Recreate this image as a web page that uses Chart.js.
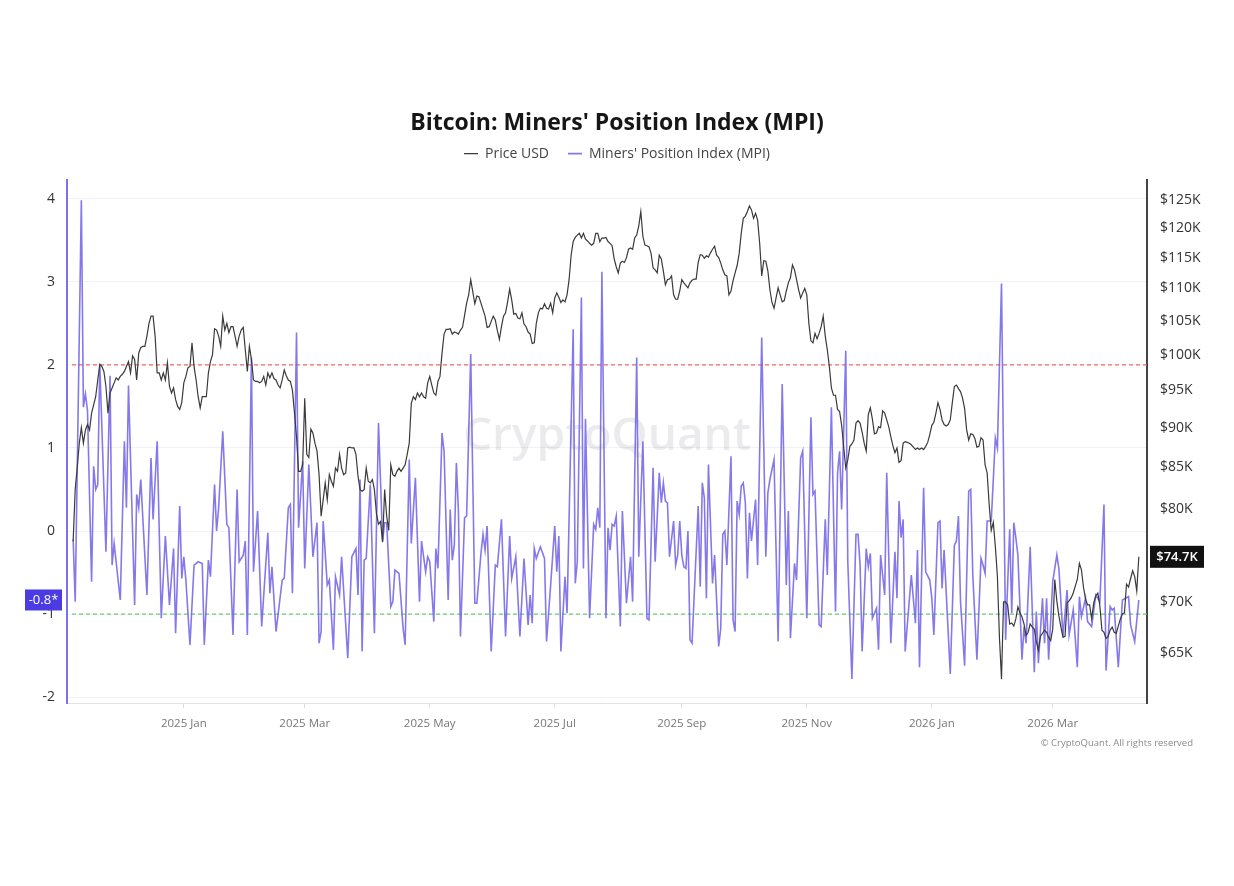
<!DOCTYPE HTML>
<html>
<head>
  <meta charset="utf-8">
  <script src="https://cdn.jsdelivr.net/npm/chart.js"></script>
  <style>
    body { margin: 0; background: #fff; }
  </style>
</head>
<body>
  <canvas id="mpiChart" width="1234" height="886"></canvas>

  <script>
    // First day of both series; x positions are day offsets from here
    var startDate = '2024-11-08';

    // Bitcoin price, USD thousands, one value per day from startDate
    var priceK = [
      76.4, 82.3, 85.0, 88.0, 90.0, 88.0, 89.7, 90.4, 89.7, 91.9,
      93.0, 94.1, 96.4, 98.6, 98.3, 97.6, 95.5, 91.9, 94.6, 95.3,
      96.0, 96.7, 96.4, 96.9, 97.2, 97.6, 98.3, 99.0, 97.4, 99.8,
      99.3, 96.4, 100.2, 101.0, 101.2, 101.2, 102.7, 104.6, 105.7, 105.7,
      102.7, 97.4, 97.4, 96.4, 97.4, 96.4, 98.8, 95.5, 94.6, 95.3,
      93.7, 92.8, 92.4, 93.3, 96.0, 96.9, 98.1, 98.3, 101.7, 98.3,
      96.4, 94.1, 92.6, 94.1, 94.1, 94.1, 97.4, 99.0, 100.0, 103.8,
      103.6, 102.7, 101.2, 105.7, 103.6, 104.6, 103.2, 104.1, 104.1, 102.7,
      101.2, 102.7, 103.6, 104.0, 100.7, 97.6, 101.2, 99.3, 96.4, 96.2,
      96.2, 96.0, 96.2, 96.9, 95.7, 97.4, 96.7, 97.4, 96.6, 96.4,
      95.7, 95.3, 96.4, 97.8, 97.0, 96.4, 96.2, 95.0, 91.9, 88.8,
      84.5, 84.5, 85.3, 93.9, 86.6, 86.2, 89.8, 89.3, 88.0, 87.0,
      84.1, 79.2, 81.1, 83.1, 81.1, 84.1, 83.3, 82.7, 84.9, 84.5,
      86.6, 84.9, 84.1, 84.3, 87.4, 87.5, 87.4, 87.4, 86.6, 83.9,
      82.3, 82.1, 82.3, 84.9, 83.3, 83.1, 83.5, 82.3, 79.5, 78.3,
      78.6, 76.3, 82.3, 79.2, 77.6, 85.3, 84.1, 83.9, 84.5, 84.9,
      84.5, 84.9, 85.3, 86.6, 88.0, 93.2, 94.1, 93.7, 94.6, 94.1,
      94.6, 94.1, 93.9, 96.0, 96.9, 95.7, 94.6, 94.3, 96.2, 96.9,
      100.2, 103.0, 103.7, 103.7, 103.8, 103.0, 103.3, 103.2, 103.0, 103.6,
      104.0, 105.8, 107.7, 109.0, 111.4, 109.5, 107.6, 108.8, 108.7, 107.7,
      106.7, 105.7, 104.0, 104.1, 104.9, 105.7, 105.1, 103.5, 102.2, 104.1,
      105.7, 106.2, 107.9, 109.9, 108.2, 106.0, 106.1, 105.4, 105.3, 106.2,
      104.5, 104.1, 103.3, 103.0, 101.6, 101.7, 104.6, 106.2, 106.9, 106.8,
      107.6, 106.9, 106.8, 107.7, 106.2, 108.5, 109.3, 108.6, 107.8, 108.2,
      107.9, 109.0, 111.4, 115.4, 117.7, 118.4, 118.8, 119.1, 118.3, 119.1,
      118.1, 117.8, 117.4, 117.1, 117.4, 119.1, 119.1, 117.7, 118.3, 118.3,
      118.4, 117.7, 117.4, 117.0, 114.8, 113.5, 112.5, 114.1, 114.4, 114.2,
      115.0, 116.4, 116.6, 116.4, 118.3, 118.8, 120.4, 122.9, 118.6, 117.1,
      117.0, 116.8, 115.7, 113.3, 113.0, 112.5, 115.4, 114.8, 112.8, 110.6,
      111.4, 111.5, 112.0, 109.0, 108.3, 108.3, 109.6, 111.4, 110.9, 110.5,
      110.1, 110.9, 111.3, 111.5, 111.5, 114.2, 115.5, 115.4, 114.9, 115.3,
      115.1, 115.8, 116.4, 116.9, 115.4, 115.0, 114.1, 113.0, 112.2, 112.0,
      109.0, 109.6, 111.2, 112.5, 113.7, 115.7, 119.1, 121.7, 122.1, 122.9,
      123.9, 123.2, 121.7, 122.6, 121.4, 117.4, 112.0, 114.5, 114.4, 112.8,
      109.8, 107.8, 106.9, 108.5, 110.1, 109.0, 107.9, 108.1, 109.6, 110.9,
      111.7, 113.8, 113.0, 111.4, 109.8, 108.5, 109.3, 110.0, 109.0, 104.6,
      102.0, 101.7, 103.1, 102.3, 103.1, 104.1, 105.7, 102.7, 100.7, 98.3,
      95.3, 94.3, 94.3, 92.4, 92.1, 90.3, 87.5, 84.9, 85.9, 87.6,
      87.9, 88.4, 90.6, 90.9, 90.6, 89.4, 88.0, 87.0, 91.7, 92.6,
      91.1, 89.2, 89.3, 90.1, 90.0, 92.2, 91.9, 91.0, 90.1, 88.8,
      87.7, 86.8, 87.4, 85.6, 85.8, 88.0, 88.2, 88.1, 88.0, 87.8,
      87.5, 87.2, 87.4, 87.2, 87.4, 87.2, 87.6, 88.1, 89.1, 90.3,
      90.7, 91.9, 93.3, 92.4, 91.0, 90.4, 90.2, 90.4, 91.0, 93.3,
      95.5, 95.7, 95.2, 94.8, 93.9, 92.5, 89.7, 88.4, 89.2, 89.1,
      88.6, 87.5, 87.6, 88.7, 88.4, 85.3, 84.3, 80.5, 77.6, 78.5,
      75.8, 72.6, 66.5, 62.6, 70.0, 70.0, 69.7, 67.8, 67.9, 67.6,
      68.3, 69.5, 68.9, 68.5, 67.8, 66.7, 67.0, 67.8, 67.5, 67.3,
      66.1, 65.3, 66.6, 66.9, 67.2, 67.0, 66.5, 66.2, 67.3, 72.3,
      70.1, 68.6, 67.5, 66.5, 66.6, 69.9, 70.1, 70.4, 70.9, 71.6,
      72.3, 74.0, 73.3, 71.5, 70.3, 69.7, 69.7, 68.3, 69.9, 70.6,
      70.9, 69.6, 67.2, 67.0, 66.4, 66.6, 67.2, 67.5, 67.0, 66.9,
      67.6, 68.3, 68.8, 68.9, 71.8, 71.5, 72.4, 73.2, 72.6, 71.1,
      74.7
    ];

    // MPI turning points: day offset from startDate and index value
    var mpiDay = [
      0, 1, 4, 5, 6, 7, 9, 10, 11, 12, 13, 16,
      18, 19, 20, 23, 25, 26, 27, 30, 31, 32, 33, 36,
      38, 39, 41, 43, 45, 47, 49, 50, 52, 53, 54, 55,
      57, 59, 61, 63, 64, 66, 67, 69, 70, 71, 73, 75,
      76, 78, 80, 81, 83, 84, 85, 87, 88, 90, 92, 95,
      96, 97, 99, 102, 103, 105, 106, 107, 109, 110, 112, 113,
      115, 117, 119, 120, 121, 122, 124, 125, 127, 128, 130, 131,
      134, 136, 138, 139, 140, 141, 142, 143, 145, 147, 149, 151,
      152, 153, 155, 156, 157, 159, 161, 162, 164, 165, 167, 169,
      170, 172, 173, 174, 176, 177, 178, 180, 181, 183, 184, 185,
      186, 187, 188, 189, 191, 192, 194, 196, 197, 199, 200, 201,
      202, 204, 206, 207, 209, 211, 213, 214, 216, 218, 220, 222,
      223, 224, 225, 226, 228, 230, 231, 233, 235, 236, 237, 238,
      240, 241, 244, 245, 246, 248, 249, 250, 252, 254, 255, 256,
      257, 258, 260, 261, 262, 263, 264, 265, 267, 268, 270, 272,
      273, 275, 276, 278, 280, 281, 283, 284, 286, 287, 288, 289,
      290, 291, 293, 294, 295, 296, 297, 298, 299, 300, 301, 302,
      305, 306, 307, 308, 309, 310, 312, 313, 315, 316, 317, 318,
      319, 321, 322, 323, 324, 325, 326, 327, 328, 329, 330, 331,
      333, 334, 336, 338, 339, 340, 342, 344, 346, 348, 349, 350,
      352, 353, 355, 356, 358, 360, 361, 362, 364, 365, 367, 368,
      370, 372, 373, 374, 375, 377, 378, 380, 382, 383, 384, 385,
      387, 388, 389, 390, 392, 393, 394, 396, 397, 399, 401, 402,
      403, 404, 405, 406, 409, 411, 412, 413, 415, 416, 418, 419,
      420, 422, 423, 424, 425, 428, 430, 431, 432, 433, 435, 437,
      438, 439, 441, 443, 444, 445, 446, 448, 450, 451, 453, 455,
      457, 458, 459, 460, 461, 463, 464, 465, 467, 469, 470, 471,
      473, 474, 475, 476, 478, 480, 481, 483, 485, 486, 488, 490,
      491, 492, 494, 495, 497, 499, 501, 503, 504, 506, 507, 508,
      510, 512, 515, 516, 518, 520
    ];
    var mpiValue = [
      -0.10, -0.85, 3.98, 1.49, 1.65, 1.45, -0.61, 0.78, 0.50, 0.56, 2.01, -0.25,
      1.87, -0.41, -0.15, -0.83, 1.08, 0.28, 1.75, -0.89, 0.44, 0.28, 0.62, -0.77,
      0.88, 0.14, 1.08, -1.05, -0.06, -0.89, -0.21, -1.23, 0.30, -0.57, -0.31, -0.59,
      -1.37, -0.41, -0.37, -0.39, -1.37, -0.35, -0.55, 0.56, 0.00, 0.28, 1.20, 0.08,
      0.04, -1.25, 0.50, -0.37, -0.29, -0.12, -1.25, 2.09, -0.49, 0.24, -1.15, -0.02,
      -0.75, -0.43, -1.21, -0.59, -0.57, 0.28, 0.32, -0.75, 2.39, 0.04, 0.84, -0.45,
      0.80, -0.31, 0.10, -1.35, -1.21, 0.12, -0.65, -0.59, -1.43, -0.55, -0.77, -0.31,
      -1.53, -0.31, -0.21, -0.77, 0.62, -1.45, -0.35, -0.33, 0.56, -1.23, 1.30, -0.12,
      0.10, 0.10, -0.91, -0.85, -0.47, -0.51, -1.17, -1.37, 0.86, -0.15, 0.64, -0.85,
      -0.12, -0.49, -0.31, -0.37, -1.09, -0.21, -0.45, 1.18, 0.96, -0.83, 0.26, -0.35,
      -0.17, 0.82, 0.24, -1.27, 0.16, 0.18, 2.13, -0.87, -0.87, -0.27, -0.04, -0.23,
      0.06, -1.45, -0.41, -0.43, 0.14, -1.27, -0.06, -0.57, -0.31, -1.27, -0.33, -1.13,
      -0.77, -1.11, -0.21, -0.33, -0.19, -0.33, -1.33, -0.65, 0.06, -0.49, -0.06, -1.45,
      -0.55, -0.99, 2.43, -0.63, -0.37, 2.81, -0.45, 1.35, -1.05, 0.08, 0.02, 0.28,
      0.04, 3.12, -1.05, 0.04, -0.23, 0.08, 0.06, 0.18, -1.15, 0.24, -0.87, -0.31,
      -0.85, 2.09, -0.31, 1.08, -1.05, -1.07, 0.76, -0.37, 0.70, 0.34, 0.58, 0.36,
      0.34, -0.31, 0.12, -0.41, -0.29, 0.12, -0.29, -0.43, -0.45, 0.00, -1.31, -1.35,
      0.30, -0.67, 0.58, 0.40, -0.81, 0.80, -0.63, -0.29, -1.39, -1.17, -0.04, 0.00,
      -0.41, 0.90, -1.07, -1.21, 0.36, 0.20, 0.54, 0.58, 0.34, -0.57, 0.22, -0.12,
      0.38, -0.41, 2.33, -0.31, 0.46, 0.62, 0.86, -1.33, 1.77, -0.65, 0.24, -1.29,
      -0.39, -0.59, 0.88, 0.96, -1.05, 1.37, 0.44, 0.48, -1.13, -1.15, 0.14, -0.53,
      1.49, -0.97, 0.70, 0.96, 0.26, 2.17, -0.37, -1.78, -0.04, -0.04, -0.41, -1.45,
      -0.21, -0.43, -0.27, -1.05, -0.93, -1.43, -0.29, -0.77, 0.70, -1.35, -0.25, -0.81,
      0.36, -0.08, 0.14, -1.45, -0.53, -1.11, -0.23, -1.64, 0.52, -0.49, -0.59, -0.81,
      -1.25, 0.10, 0.12, -0.69, -0.23, -1.72, -0.17, -0.12, 0.18, -0.85, -1.62, 0.48,
      0.50, -0.53, -1.55, -0.33, -0.41, -0.51, 0.12, 0.12, 1.12, 1.00, 2.98, -1.31,
      0.02, -0.99, 0.10, -0.08, -0.29, -1.55, -1.15, -1.35, -0.19, -1.70, -0.97, -1.59,
      -0.81, -1.35, -0.81, -1.55, -0.61, -0.29, -0.45, -1.27, -0.71, -1.25, -0.95, -1.64,
      -0.79, -1.03, -0.81, -1.09, -1.15, -0.77, -0.85, 0.32, -1.68, -0.91, -0.95, -0.93,
      -1.64, -0.83, -0.79, -1.13, -1.33, -0.83
    ];

    // Axis ticks
    var monthTickDates = ['2025-01-01', '2025-03-01', '2025-05-01', '2025-07-01',
                          '2025-09-01', '2025-11-01', '2026-01-01', '2026-03-01'];
    var monthTickLabels = ['2025 Jan', '2025 Mar', '2025 May', '2025 Jul',
                           '2025 Sep', '2025 Nov', '2026 Jan', '2026 Mar'];
    var mpiTicks = [-2, -1, 0, 1, 2, 3, 4];
    var priceTicks = [65, 70, 75, 80, 85, 90, 95, 100, 105, 110, 115, 120, 125];

    // Reference levels on the MPI axis (high / low)
    var mpiLevels = [2, -1];

    var FONT = "'Open Sans', 'Noto Sans', sans-serif";
    var MPI_COLOR = 'rgba(112, 96, 232, 0.85)';

    function dayOffset(dateStr) {
      return Math.round((Date.parse(dateStr) - Date.parse(startDate)) / 86400000);
    }
    var monthTickDays = monthTickDates.map(dayOffset);

    // Threshold lines, watermark, value badges and footer
    var decorPlugin = {
      id: 'decor',
      beforeDatasetsDraw: function (chart) {
        var ctx = chart.ctx, area = chart.chartArea, yMpi = chart.scales.yMpi;
        ctx.save();
        // watermark
        ctx.font = "600 46px " + FONT;
        ctx.fillStyle = 'rgba(120, 120, 140, 0.15)';
        ctx.textAlign = 'center';
        ctx.textBaseline = 'middle';
        ctx.fillText('CryptoQuant', (area.left + area.right) / 2, 437);
        // dashed levels
        var levelColors = ['rgba(240, 90, 90, 0.9)', 'rgba(105, 200, 105, 0.95)'];
        ctx.lineWidth = 1.3;
        ctx.setLineDash([4, 3]);
        mpiLevels.forEach(function (lv, i) {
          var y = yMpi.getPixelForValue(lv);
          ctx.strokeStyle = levelColors[i];
          ctx.beginPath();
          ctx.moveTo(area.left + 5, y);
          ctx.lineTo(area.right, y);
          ctx.stroke();
        });
        ctx.restore();
      },
      afterDraw: function (chart) {
        var ctx = chart.ctx, area = chart.chartArea;
        ctx.save();
        ctx.textBaseline = 'middle';
        // last MPI value badge on the left axis
        var lastMpi = mpiValue[mpiValue.length - 1];
        var yL = chart.scales.yMpi.getPixelForValue(lastMpi);
        ctx.fillStyle = '#4a3be2';
        ctx.fillRect(25, yL - 10.5, 37, 21);
        ctx.fillStyle = '#fff';
        ctx.font = "13px " + FONT;
        ctx.textAlign = 'center';
        ctx.fillText(lastMpi.toFixed(1) + '*', 43.5, yL);
        // last price badge on the right axis
        var lastPrice = priceK[priceK.length - 1];
        var yR = chart.scales.yPrice.getPixelForValue(lastPrice);
        ctx.fillStyle = '#111';
        ctx.fillRect(area.right + 3, yR - 11, 54, 22);
        ctx.fillStyle = '#fff';
        ctx.font = "600 13px " + FONT;
        ctx.fillText('$' + lastPrice.toFixed(1) + 'K', area.right + 30, yR);
        // footer
        ctx.fillStyle = '#8a8a8a';
        ctx.font = "9.5px " + FONT;
        ctx.textAlign = 'right';
        ctx.fillText('\u00A9 CryptoQuant. All rights reserved', 1193, 743);
        ctx.restore();
      }
    };

    var myContext = document.getElementById('mpiChart').getContext('2d');
    var myChart = new Chart(myContext, {
      type: 'line',
      data: {
        datasets: [{
          label: 'Price USD',
          data: priceK.map(function (v, i) { return { x: i, y: v }; }),
          yAxisID: 'yPrice',
          borderColor: '#3a3a3a',
          backgroundColor: '#3a3a3a',
          borderWidth: 1.2,
          pointRadius: 0,
          tension: 0
        }, {
          label: "Miners' Position Index (MPI)",
          data: mpiDay.map(function (d, i) { return { x: d, y: mpiValue[i] }; }),
          yAxisID: 'yMpi',
          borderColor: MPI_COLOR,
          backgroundColor: MPI_COLOR,
          borderWidth: 1.6,
          pointRadius: 0,
          tension: 0
        }]
      },
      options: {
        responsive: false,
        animation: false,
        devicePixelRatio: 1,
        layout: { padding: { top: 0, bottom: 0, left: 0, right: 0 } },
        plugins: {
          title: {
            display: true,
            text: "Bitcoin: Miners' Position Index (MPI)",
            color: '#161616',
            font: { family: FONT, size: 23, weight: 'bold' },
            padding: { top: 110, bottom: -10 }
          },
          legend: {
            display: true,
            position: 'top',
            labels: {
              usePointStyle: true,
              pointStyle: 'line',
              pointStyleWidth: 14,
              color: '#444',
              font: { family: FONT, size: 14 },
              padding: 19
            }
          },
          // empty spacer placed between the legend and the plot
          subtitle: {
            display: true,
            text: '',
            weight: 900,
            font: { size: 1, lineHeight: 1 },
            padding: { top: 0, bottom: 8 }
          },
          tooltip: { enabled: false }
        },
        scales: {
          x: {
            type: 'linear',
            min: -3,
            max: 524,
            afterBuildTicks: function (axis) {
              axis.ticks = monthTickDays.map(function (d) { return { value: d }; });
            },
            afterFit: function (axis) { axis.height = 183; },
            grid: { drawOnChartArea: false, drawTicks: true, tickLength: 5, color: '#dcdcdc' },
            border: { color: '#e2e2e2' },
            ticks: {
              color: '#777',
              font: { family: FONT, size: 11.5 },
              padding: 9,
              maxRotation: 0,
              autoSkip: false,
              callback: function (value) {
                var k = monthTickDays.indexOf(value);
                return k >= 0 ? monthTickLabels[k] : '';
              }
            }
          },
          yMpi: {
            type: 'linear',
            position: 'left',
            min: -2.07,
            max: 4.23,
            afterBuildTicks: function (axis) {
              axis.ticks = mpiTicks.map(function (v) { return { value: v }; });
            },
            afterFit: function (axis) { axis.width = 67; },
            grid: { color: '#f1f1f1', drawTicks: false },
            border: { color: '#7d70ee', width: 2 },
            ticks: {
              color: '#333',
              font: { family: FONT, size: 14 },
              padding: 12,
              autoSkip: false
            }
          },
          yPrice: {
            type: 'logarithmic',
            position: 'right',
            min: 60.5,
            max: 128.7,
            afterBuildTicks: function (axis) {
              axis.ticks = priceTicks.map(function (v) { return { value: v }; });
            },
            afterFit: function (axis) { axis.width = 87; },
            grid: { drawOnChartArea: false, drawTicks: false },
            border: { color: '#444', width: 2 },
            ticks: {
              color: '#333',
              font: { family: FONT, size: 14 },
              padding: 13,
              autoSkip: false,
              callback: function (value) { return '$' + value + 'K'; }
            }
          }
        }
      },
      plugins: [decorPlugin]
    });
  </script>
</body>
</html>
